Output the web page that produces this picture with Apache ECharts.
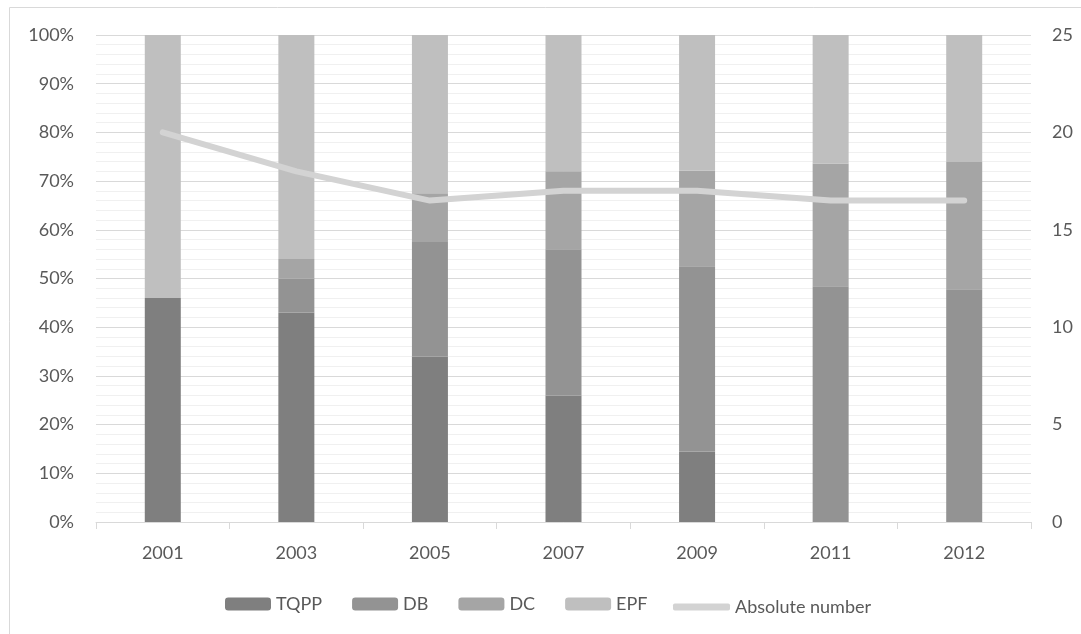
<!DOCTYPE html>
<html>
<head>
<meta charset="utf-8">
<script src="https://cdn.jsdelivr.net/npm/echarts@6/dist/echarts.min.js"></script>
<style>
html,body{margin:0;padding:0;background:#fff;}
#chart{width:1081px;height:634px;}
</style>
</head>
<body>
<div id="chart"></div>
<script>
const years = ['2001','2003','2005','2007','2009','2011','2012'];
const tqpp = [46, 43, 34, 26, 14.5, 0, 0];
const db = [0, 7, 23.5, 30, 38, 48.4, 47.8];
const dc = [0, 4, 10, 16, 19.6, 25.2, 26.1];
const epf = [54, 46, 32.5, 28, 27.9, 26.4, 26.1];
const absoluteNumber = [20, 18, 16.5, 17, 17, 16.5, 16.5];

const FONT = 'Lato, "Open Sans", "Liberation Sans", sans-serif';
const TXT = '#595959';
const chart = echarts.init(document.getElementById('chart'));

function barSeries(name, data, color) {
  return {
    name: name, type: 'bar', stack: 'share', data: data, barWidth: 36,
    itemStyle: { color: color }, emphasis: { disabled: true }
  };
}

chart.setOption({
  animation: false,
  textStyle: { fontFamily: FONT },
  graphic: [{
    type: 'rect', shape: { x: 9.5, y: 7.5, width: 1200, height: 700 },
    style: { fill: 'none', stroke: '#d9d9d9', lineWidth: 1 }, silent: true
  }],
  grid: { left: 96, right: 50, top: 35, bottom: 112 },
  legend: [{
    top: 590, left: 220, itemWidth: 46, itemHeight: 13, itemGap: 30,
    textStyle: { color: TXT, fontSize: 18, fontFamily: FONT },
    data: ['TQPP', 'DB', 'DC', 'EPF']
  }, {
    top: 593, left: 668, itemWidth: 57, itemHeight: 7,
    textStyle: { color: TXT, fontSize: 18, fontFamily: FONT },
    data: [{ name: 'Absolute number', icon: 'roundRect' }]
  }],
  xAxis: {
    type: 'category', data: years,
    axisLine: { lineStyle: { color: '#d9d9d9' } },
    axisTick: { show: true, length: 7, lineStyle: { color: '#d9d9d9' } },
    axisLabel: { color: TXT, fontSize: 18, margin: 22 }
  },
  yAxis: [{
    type: 'value', min: 0, max: 100, interval: 10,
    axisLabel: { formatter: '{value}%', color: TXT, fontSize: 18, margin: 22 },
    axisLine: { show: false }, axisTick: { show: false },
    splitLine: { lineStyle: { color: '#d9d9d9' } },
    minorTick: { show: false, splitNumber: 5 },
    minorSplitLine: { show: true, lineStyle: { color: '#f0f0f0' } }
  }, {
    type: 'value', min: 0, max: 25, interval: 5,
    axisLabel: { color: TXT, fontSize: 18, margin: 21 },
    axisLine: { show: false }, axisTick: { show: false },
    splitLine: { show: false }
  }],
  series: [
    barSeries('TQPP', tqpp, '#7f7f7f'),
    barSeries('DB', db, '#939393'),
    barSeries('DC', dc, '#a5a5a5'),
    barSeries('EPF', epf, '#bfbfbf'),
    {
      name: 'Absolute number', type: 'line', yAxisIndex: 1, data: absoluteNumber,
      symbol: 'none', z: 10,
      lineStyle: { color: '#d3d3d3', width: 6, cap: 'round', join: 'round' },
      itemStyle: { color: '#d3d3d3' }, emphasis: { disabled: true }
    }
  ]
});
</script>
</body>
</html>
